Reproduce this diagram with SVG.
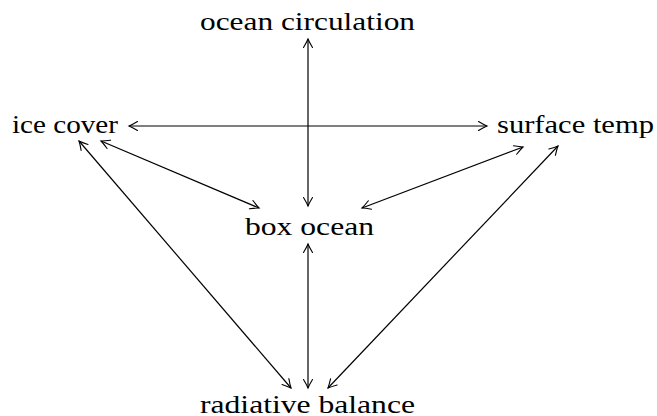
<svg xmlns="http://www.w3.org/2000/svg" width="657" height="416" viewBox="0 0 657 416">
<style>
text{font-family:"Liberation Serif","DejaVu Serif",serif;font-size:26px;fill:#000}
.e{stroke:#000;stroke-width:1.2;fill:none;marker-start:url(#a);marker-end:url(#a)}
</style>
<defs>
<marker id="a" markerUnits="userSpaceOnUse" viewBox="-10 -6 12 12" refX="0" refY="0" markerWidth="12" markerHeight="12" orient="auto-start-reverse">
<path d="M-8.5,-4.5 Q-3,-1.2 0,0 Q-3,1.2 -8.5,4.5" fill="none" stroke="#000" stroke-width="1.1" stroke-linecap="round"/>
</marker>
</defs>
<rect width="657" height="416" fill="#fff"/>
<g id="connectors">
<line class="e" x1="308" y1="39" x2="308" y2="206"/>
<line class="e" x1="129" y1="126" x2="487" y2="126"/>
<line class="e" x1="101" y1="141" x2="259" y2="208"/>
<line class="e" x1="79" y1="141" x2="291" y2="388"/>
<line class="e" x1="308" y1="244" x2="308" y2="388"/>
<line class="e" x1="523" y1="147" x2="362" y2="208"/>
<line class="e" x1="558" y1="146" x2="328" y2="388"/>
</g>
<g id="ocean-circulation"><text x="200" y="30" textLength="215" lengthAdjust="spacingAndGlyphs">ocean circulation</text></g>
<g id="ice-cover"><text x="12" y="133" textLength="106" lengthAdjust="spacingAndGlyphs">ice cover</text></g>
<g id="surface-temp"><text x="497" y="133" textLength="157" lengthAdjust="spacingAndGlyphs">surface temp</text></g>
<g id="box-ocean"><text x="245" y="235" textLength="129" lengthAdjust="spacingAndGlyphs">box ocean</text></g>
<g id="radiative-balance"><text x="200" y="413" textLength="215" lengthAdjust="spacingAndGlyphs">radiative balance</text></g>
</svg>
